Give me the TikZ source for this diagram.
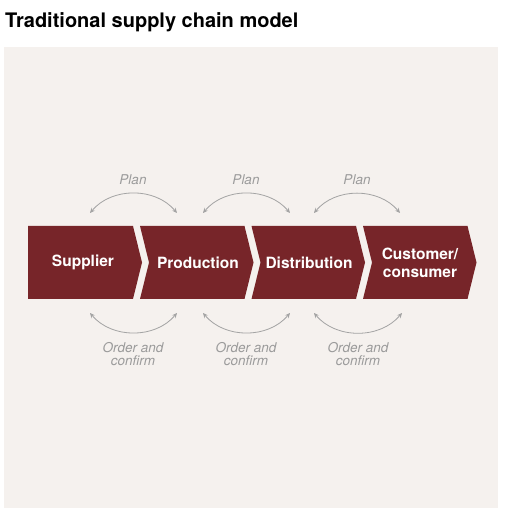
\documentclass[tikz,border=0pt]{standalone}
\usepackage{fontspec}
\setmainfont{TeX Gyre Heros}
\usetikzlibrary{arrows.meta}
\definecolor{chainred}{HTML}{772529}
\definecolor{panel}{HTML}{F5F1EE}
\definecolor{arcgray}{HTML}{A3A3A3}
\definecolor{labelgray}{HTML}{9B9B9B}

\begin{document}
\begin{tikzpicture}[x=1pt,y=1pt]
\tikzstyle{link}=[fill=chainred]
\tikzstyle{linklabel}=[inner sep=0pt,text=white,font=\fontsize{15.5}{18}\selectfont\bfseries,align=center]
\tikzstyle{flow}=[draw=arcgray,line width=0.8pt,{Stealth[length=5pt,width=4.5pt]}-{Stealth[length=5pt,width=4.5pt]}]
\tikzstyle{note}=[text=labelgray,font=\fontsize{13.5}{12.5}\selectfont\itshape,align=center,inner sep=0pt]
\useasboundingbox (0,0) rectangle (509,521);
\path[fill=panel] (4,13) rectangle (498,474);
\node[anchor=base west,inner sep=0pt,font=\fontsize{20}{20}\selectfont\bfseries] (title) at (5,493) {Traditional supply chain model};

% the chain
\path[link] (28,295) -- (133,295) -- (142,258.5) -- (133,222) -- (28,222) -- cycle;
\path[link] (140,295) -- (244.5,295) -- (253.5,258.5) -- (244.5,222) -- (140,222) -- (149,258.5) -- cycle;
\path[link] (251.5,295) -- (356,295) -- (365,258.5) -- (356,222) -- (251.5,222) -- (260.5,258.5) -- cycle;
\path[link] (363,295) -- (467.5,295) -- (476.5,258.5) -- (467.5,222) -- (363,222) -- (372,258.5) -- cycle;
\node[linklabel] (sup) at (83,258.5) {Supplier};
\node[linklabel] (prod) at (198,258.5) {Production};
\node[linklabel] (dist) at (309,258.5) {Distribution};
\node[linklabel] (cust) at (420,258.5) {Customer/\\consumer};

% plan arcs
\coordinate (p1l) at (90,308); \coordinate (p1r) at (177,308);
\coordinate (p2l) at (203,308); \coordinate (p2r) at (290,308);
\coordinate (p3l) at (314,308); \coordinate (p3r) at (400,308);
\draw[flow] (p1l) to[bend left=50] (p1r);
\draw[flow] (p2l) to[bend left=50] (p2r);
\draw[flow] (p3l) to[bend left=50] (p3r);
\node[note] (plan1) at (133,341) {Plan};
\node[note] (plan2) at (246,341) {Plan};
\node[note] (plan3) at (357,341) {Plan};

% order arcs
\coordinate (o1l) at (90,208); \coordinate (o1r) at (177,208);
\coordinate (o2l) at (203,208); \coordinate (o2r) at (290,208);
\coordinate (o3l) at (314,208); \coordinate (o3r) at (402,208);
\draw[flow] (o1l) to[bend right=50] (o1r);
\draw[flow] (o2l) to[bend right=50] (o2r);
\draw[flow] (o3l) to[bend right=50] (o3r);
\node[note] (order1) at (133,167) {Order and\\confirm};
\node[note] (order2) at (246,167) {Order and\\confirm};
\node[note] (order3) at (358,167) {Order and\\confirm};
\end{tikzpicture}
\end{document}
